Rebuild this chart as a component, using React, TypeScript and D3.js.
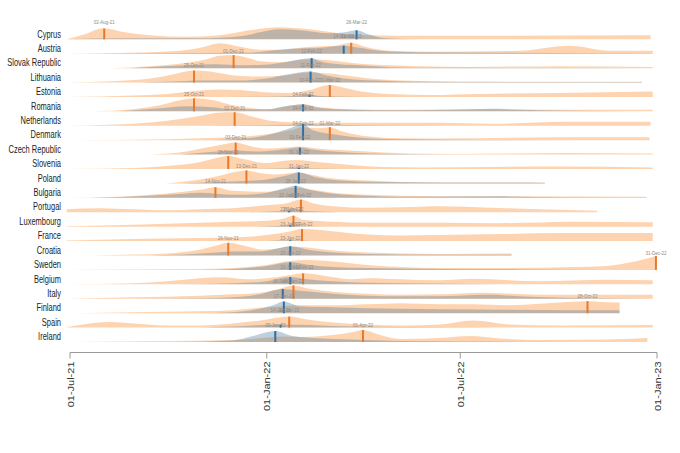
import * as d3 from 'd3'
import React, { useRef, useEffect } from 'react'

// Countries, top to bottom
const countries = [
  'Cyprus', 'Austria', 'Slovak Republic', 'Lithuania', 'Estonia', 'Romania',
  'Netherlands', 'Denmark', 'Czech Republic', 'Slovenia', 'Poland', 'Bulgaria',
  'Portugal', 'Luxembourg', 'France', 'Croatia', 'Sweden', 'Belgium', 'Italy',
  'Finland', 'Spain', 'Ireland',
]

// Peak dates marked by the vertical lines
const orangePeaks = [
  '02-Aug-21', '21-Mar-22', '01-Dec-21', '25-Oct-21', '01-Mar-22', '25-Oct-21',
  '02-Dec-21', '01-Mar-22', '03-Dec-21', '26-Nov-21', '13-Dec-21', '14-Nov-21',
  '02-Feb-22', '26-Jan-22', '03-Feb-22', '26-Nov-21', '31-Dec-22', '04-Feb-22',
  '26-Jan-22', '28-Oct-22', '22-Jan-22', '01-Apr-22',
]
const bluePeaks = [
  '26-Mar-22', '14-Mar-22', '12-Feb-22', '11-Feb-22', '10-Feb-22', '04-Feb-22',
  '04-Feb-22', '04-Feb-22', '01-Feb-22', '31-Jan-22', '31-Jan-22', '28-Jan-22',
  '22-Jan-22', '23-Jan-22', '23-Jan-22', '23-Jan-22', '23-Jan-22', '23-Jan-22',
  '16-Jan-22', '17-Jan-22', '14-Jan-22', '09-Jan-22',
]

// Density curves: [days since 01-Jul-21, density]
const orangeCurves: [number, number][][] = [
  [[-3, 0], [14, 5], [31, 11], [51, 7], [75, 4], [108, 2.5], [140, 4], [168, 9], [196, 12], [224, 10], [252, 6], [280, 4], [327, 3.5], [543, 4]],
  [[-3, 0], [56, 1], [103, 3], [126, 7], [140, 10.5], [159, 7], [178, 4], [196, 4], [224, 7], [248, 8], [263, 11], [276, 7], [299, 3], [337, 2], [421, 3], [467, 8], [505, 3], [545, 3]],
  [[37, 0], [75, 2], [106, 5], [128, 9], [140, 12.5], [153, 13], [164, 11], [178, 7], [196, 6], [224, 9], [243, 8], [266, 5], [299, 3], [327, 2], [374, 1.2], [458, 2], [545, 1.2]],
  [[-3, 0], [44, 1.5], [75, 4], [96, 8], [116, 12], [131, 11], [154, 7], [178, 6], [201, 7], [222, 10], [243, 9], [265, 6], [280, 4], [311, 2], [365, 1], [535, 0.8]],
  [[-3, 0], [59, 1.5], [91, 3], [117, 6], [140, 7.5], [159, 7], [178, 5], [206, 4], [224, 7], [243, 12], [257, 9], [276, 5], [299, 3], [337, 2], [383, 3], [458, 4], [545, 5.5]],
  [[19, 0], [59, 2], [84, 6], [103, 11], [116, 13], [134, 11], [152, 6], [171, 3], [187, 2], [203, 5], [218, 7], [234, 4], [265, 2], [309, 1.5], [383, 2], [545, 1.5]],
  [[-3, 0], [59, 2], [91, 5], [122, 10], [138, 13], [154, 13.5], [171, 9], [187, 5], [206, 3.5], [234, 3], [271, 3], [346, 3], [393, 2], [465, 4], [543, 4]],
  [[-3, 0], [91, 1], [122, 2], [152, 3], [184, 6], [206, 10], [218, 13], [231, 12], [243, 13], [254, 9], [278, 4], [309, 2], [346, 1.8], [458, 3], [542, 3]],
  [[75, 0], [109, 3], [128, 7], [143, 10], [155, 12], [168, 8.5], [184, 6], [201, 7], [215, 8], [231, 6], [262, 4], [293, 2], [318, 1], [355, 0.5], [465, 1.5], [545, 1]],
  [[-3, 0], [59, 1], [91, 3], [122, 7], [137, 11], [148, 13], [162, 10], [184, 6], [199, 8], [212, 9], [231, 7], [262, 4], [293, 2], [327, 1.5], [458, 2.5], [545, 1.5]],
  [[89, 0], [122, 4], [137, 7], [152, 11], [165, 13], [175, 11], [190, 9], [203, 10], [214, 11], [224, 9], [246, 5], [278, 3], [309, 1.5], [346, 1], [444, 0.8]],
  [[-3, 0], [44, 1], [75, 3], [106, 6], [122, 8], [136, 10.7], [152, 7], [184, 6], [203, 9], [211, 10], [227, 8], [246, 5], [278, 3], [309, 2], [346, 1.5], [402, 1.5], [539, 1]],
  [[-3, 3], [28, 4], [59, 3], [91, 2], [122, 3], [152, 4], [184, 7], [203, 9], [216, 12.7], [227, 9], [246, 6], [278, 4.5], [309, 5], [346, 6], [393, 4.5], [439, 3], [493, 1.5]],
  [[-3, 0.5], [59, 2], [91, 3], [122, 4], [152, 5], [184, 6], [199, 8], [209, 11], [218, 7], [246, 5], [278, 4], [346, 4], [402, 3.5], [470, 5], [545, 4.5]],
  [[-3, 0.5], [59, 2], [122, 3], [152, 3.5], [184, 6], [203, 9], [217, 12], [234, 11], [252, 9], [278, 6.5], [309, 5.5], [346, 6], [402, 7], [458, 8], [545, 8]],
  [[19, 0], [59, 1], [91, 2], [122, 6], [137, 10], [148, 12.7], [164, 9.5], [180, 6], [194, 7], [206, 9], [222, 8], [246, 5], [278, 3], [309, 2], [346, 1.5], [413, 2]],
  [[-3, 0], [59, 0.5], [122, 1], [152, 2], [184, 5], [205, 9], [222, 10], [246, 8.5], [278, 5], [309, 3], [346, 2], [409, 2], [470, 3], [502, 4], [521, 7], [538, 11], [548, 14]],
  [[-3, 0], [59, 1], [91, 3], [122, 6], [140, 7], [168, 5], [184, 6], [205, 9], [218, 11], [246, 7], [262, 5], [280, 6], [309, 5], [346, 4], [377, 5.5], [439, 3], [502, 4.5], [545, 4]],
  [[-3, 0], [59, 1.5], [91, 2], [122, 3], [152, 4.5], [178, 6], [196, 10], [209, 13.3], [224, 10], [246, 7], [278, 5], [309, 4], [346, 4.5], [386, 6], [439, 4], [496, 4], [545, 4]],
  [[7, 0], [59, 1], [122, 2], [152, 3], [184, 6], [198, 7], [215, 8], [246, 8], [278, 9], [309, 10], [346, 9], [377, 9], [409, 8], [439, 9.5], [470, 11.5], [484, 12], [502, 11], [514, 10.7]],
  [[-3, 0.5], [12, 3], [28, 5], [37, 5.5], [59, 4], [91, 2], [122, 2], [152, 4], [178, 7], [205, 11], [222, 8], [246, 5], [278, 3], [309, 2], [346, 3], [377, 7], [411, 3], [458, 2], [545, 2.5]],
  [[4, 0], [91, 1], [152, 2], [180, 4], [199, 5.5], [215, 5], [246, 7], [265, 10], [274, 12], [287, 8], [309, 3], [346, 4], [374, 6], [402, 3.5], [439, 2], [502, 2.5], [540, 4]],
]
const blueCurves: [number, number][][] = [
  [[-3, 0], [47, 1], [122, 1], [159, 3], [178, 7], [196, 10], [215, 9], [243, 6], [257, 7], [268, 9], [279, 5], [295, 1], [327, 0], [543, 0]],
  [[-3, 0], [75, 0.5], [168, 1], [187, 3], [206, 5], [234, 6], [256, 8], [271, 6], [290, 3], [327, 1.5], [402, 1], [496, 0.5], [545, 0.3]],
  [[56, 0], [109, 3], [137, 4], [159, 3], [182, 3.5], [201, 6], [215, 9], [226, 10], [234, 7], [252, 4], [271, 3], [299, 1], [337, 0.3], [545, 0]],
  [[65, 0], [96, 1], [122, 2], [154, 2], [184, 4], [203, 8], [225, 11], [240, 7], [265, 3], [287, 2], [311, 1], [365, 0.5], [535, 0.5]],
  [[122, 0], [196, 0.5], [215, 1.5], [224, 2.5], [234, 1], [262, 0.3], [300, 0]],
  [[47, 0], [84, 3], [109, 5], [134, 4], [152, 2], [184, 2], [201, 5], [218, 7], [229, 4], [252, 2], [290, 1], [355, 1.5], [393, 2.5], [439, 1], [496, 0.3], [545, 0]],
  [[122, 0], [178, 0.5], [206, 1], [218, 1.5], [243, 1], [309, 0.3], [400, 0]],
  [[122, 0], [152, 1], [184, 5], [203, 11], [218, 16], [227, 10], [246, 6], [278, 2], [309, 1], [355, 0.5], [542, 0]],
  [[103, 0], [137, 3], [152, 4], [178, 3], [199, 5], [215, 7], [227, 5], [246, 3], [280, 1], [327, 0.3], [400, 0]],
  [[168, 0], [201, 0.5], [214, 1.2], [224, 0.5], [252, 0]],
  [[103, 0], [152, 2], [184, 4], [206, 9], [214, 11], [231, 6], [252, 3], [290, 1.5], [346, 1], [444, 0.8]],
  [[19, 0], [75, 2], [106, 4], [122, 5], [152, 3], [178, 4], [199, 9], [211, 12], [224, 8], [246, 4], [278, 2], [309, 1], [402, 1.5], [458, 0.5], [539, 0.3]],
  [[168, 0], [196, 1], [205, 1.5], [224, 1], [252, 0]],
  [[175, 0], [199, 1], [206, 1.5], [215, 0.5], [234, 0]],
  [[185, 0], [206, 0.8], [225, 0]],
  [[75, 0], [106, 1], [137, 3], [152, 4], [178, 4], [194, 7], [206, 9.3], [224, 5.5], [246, 3], [278, 1.5], [309, 1], [413, 0.8]],
  [[122, 0], [152, 1], [184, 4], [206, 7.7], [224, 5], [246, 3], [278, 2], [309, 1.5], [346, 1], [421, 0.5], [496, 0]],
  [[103, 0], [152, 1], [184, 3], [206, 7.3], [222, 5], [246, 3], [278, 1.5], [309, 1], [402, 0]],
  [[75, 0], [122, 0.5], [152, 1.5], [178, 4.5], [199, 9.7], [215, 8], [246, 5], [278, 3], [309, 2.5], [346, 2.5], [390, 4], [430, 2], [496, 0.5], [545, 0]],
  [[122, 0], [152, 1], [175, 4], [190, 8], [200, 11.7], [215, 7], [246, 6], [278, 5], [309, 4.5], [346, 4], [409, 3.5], [470, 3], [514, 3]],
  [[122, 0], [152, 1], [178, 2.5], [197, 3], [224, 2.5], [246, 1.5], [309, 0.5], [402, 0]],
  [[103, 0], [152, 1.5], [171, 6], [192, 11], [208, 6], [246, 3], [278, 2], [309, 1], [365, 0.5], [540, 0]],
]

const axisTicks = ['01-Jul-21', '01-Jan-22', '01-Jul-22', '01-Jan-23']

const FONT = '"Liberation Sans", Arial, sans-serif'

const App = () => {
  const d3Container = useRef<SVGSVGElement | null>(null)

  useEffect(() => {
    const svg = d3.select(d3Container.current)
    svg.selectAll('*').remove()

    const parse = d3.timeParse('%d-%b-%y')
    const fmt = d3.timeFormat('%d-%b-%y')
    const dayZero = parse('01-Jul-21') as Date
    const toDate = (d: number) => d3.timeDay.offset(dayZero, d)

    const x = d3.scaleTime()
      .domain([parse(axisTicks[0]) as Date, parse(axisTicks[axisTicks.length - 1]) as Date])
      .range([70, 657])
    const row = d3.scalePoint().domain(countries).range([39.3, 342])
    const h = d3.scaleLinear().domain([0, 10]).range([0, 10])

    const rows = svg.append('g')
    const labels = svg.append('g')

    countries.forEach((name, i) => {
      const base = row(name) as number
      const area: any = d3.area<[number, number]>()
        .x(d => x(toDate(d[0])))
        .y0(base)
        .y1(d => base - h(d[1]))
        .curve(d3.curveMonotoneX)

      const g = rows.append('g')
      g.append('path').datum(orangeCurves[i])
        .attr('d', area)
        .attr('fill', '#fdab66')
        .attr('fill-opacity', 0.52)
      g.append('path').datum(blueCurves[i])
        .attr('d', area)
        .attr('fill', '#46789f')
        .attr('fill-opacity', 0.35)

      // peak lines reach up to the curve
      const marks = [
        { date: parse(orangePeaks[i]) as Date, curve: orangeCurves[i], color: '#e8782a' },
        { date: parse(bluePeaks[i]) as Date, curve: blueCurves[i], color: '#2f6ea3' },
      ]
      marks.forEach(m => {
        const at = d3.scaleLinear()
          .domain(m.curve.map(d => d[0]))
          .range(m.curve.map(d => d[1]))
          .clamp(true)
        const v = at(d3.timeDay.count(dayZero, m.date))
        g.append('line')
          .attr('x1', x(m.date)).attr('x2', x(m.date))
          .attr('y1', base).attr('y2', base - h(v))
          .attr('stroke', m.color)
          .attr('stroke-width', 2)
        labels.append('text')
          .attr('transform', `translate(${x(m.date)},${base - 15.3}) scale(0.75,1)`)
          .attr('text-anchor', 'middle')
          .style('font-family', FONT)
          .style('font-size', '6px')
          .attr('fill', '#8a8a8a')
          .text(fmt(m.date))
      })

      // country name
      labels.append('text')
        .attr('transform', `translate(61,${base - 1.8}) scale(0.75,1)`)
        .attr('text-anchor', 'end')
        .style('font-family', FONT)
        .style('font-size', '10px')
        .attr('fill', '#222')
        .text(name)
    })

    // x axis
    const axisY = 352.5
    const axis = svg.append('g')
    axis.append('line')
      .attr('x1', x.range()[0]).attr('x2', x.range()[1])
      .attr('y1', axisY).attr('y2', axisY)
      .attr('stroke', '#999')
    axisTicks.forEach(t => {
      const tx = x(parse(t) as Date)
      axis.append('line')
        .attr('x1', tx).attr('x2', tx)
        .attr('y1', axisY).attr('y2', axisY + 6)
        .attr('stroke', '#999')
      axis.append('text')
        .attr('transform', `translate(${tx + 3.5},${axisY + 9}) scale(0.8,1) rotate(-90)`)
        .attr('text-anchor', 'end')
        .style('font-family', FONT)
        .style('font-size', '11px')
        .attr('fill', '#333')
        .text(t)
    })
  }, [])

  return (
    <svg
      ref={ d3Container }
      width={ 680 }
      height={ 453 }
      style={{ position: 'absolute', left: 0, top: 0, background: '#fff' }}
    />
  )
}

export default App
